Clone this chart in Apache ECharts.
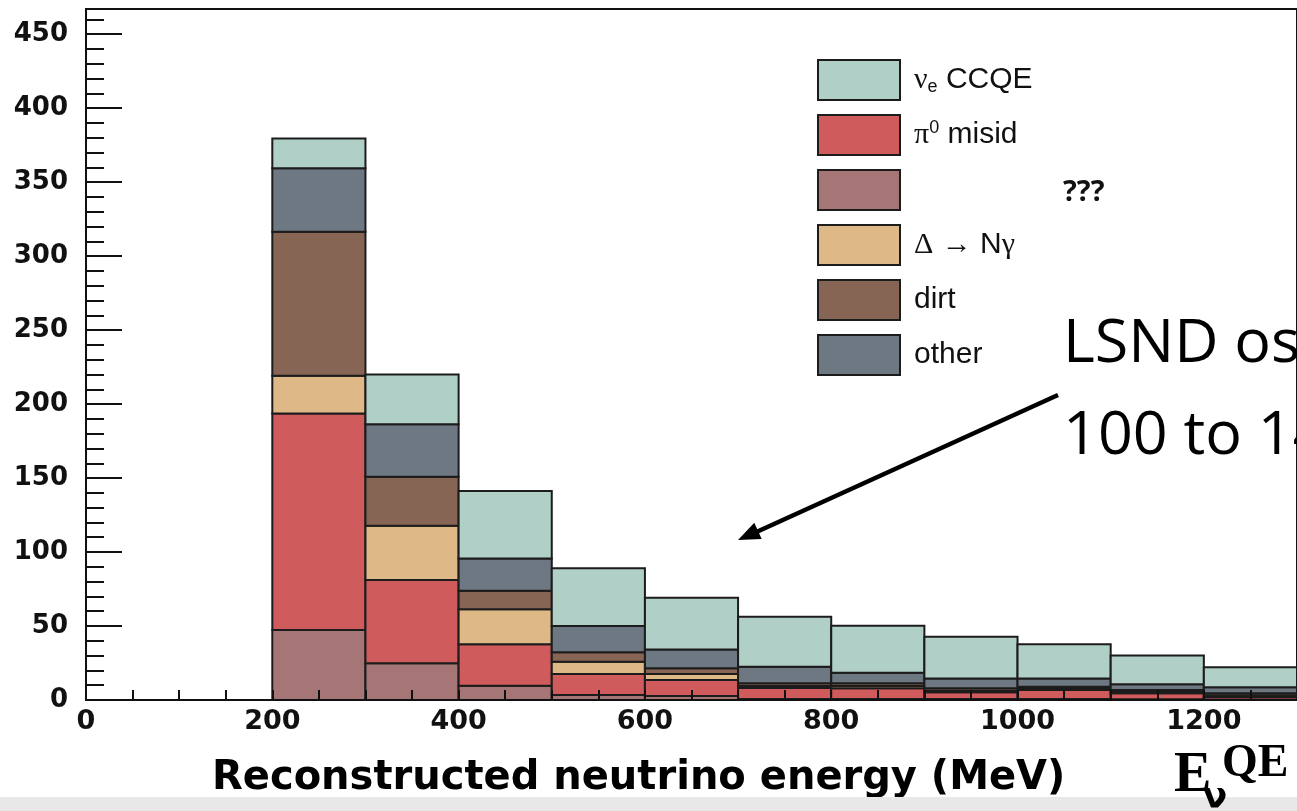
<!DOCTYPE html>
<html><head><meta charset="utf-8">
<script src="https://cdn.jsdelivr.net/npm/echarts@6/dist/echarts.min.js"></script>
<style>html,body{margin:0;padding:0;background:#fff;overflow:hidden}#c{width:1297px;height:811px}</style>
</head><body><div id="c"></div>
<script>
// ---- data (bin edges in MeV, events per bin for each stacked component) ----
const binEdges   = [200, 300, 400, 500, 600, 700, 800, 900, 1000, 1100, 1200, 1300];
const unknownVals = [47.3, 24.8, 9.7, 3.4, 2.7, 0.7, 0.7, 0.6, 0.6, 0.5, 0.4];
const pi0Vals     = [146.4, 56.3, 27.9, 14.2, 10.8, 7.4, 7.3, 4.6, 6.2, 4.0, 1.6];
const deltaVals   = [25.4, 36.7, 23.7, 8.3, 4.1, 1.4, 1.5, 1.1, 1.0, 1.0, 1.0];
const dirtVals    = [97.3, 33.1, 12.6, 6.3, 3.8, 1.8, 1.8, 1.6, 1.2, 1.3, 1.5];
const otherVals   = [42.9, 35.4, 21.8, 17.8, 12.8, 11.2, 7.1, 6.7, 5.6, 3.8, 4.1];
const ccqeVals    = [20.2, 33.7, 45.5, 39.0, 34.9, 33.8, 31.8, 28.2, 23.0, 19.4, 13.5];
const xTickLabels = [0, 200, 400, 600, 800, 1000, 1200];
const yTickLabels = [0, 50, 100, 150, 200, 250, 300, 350, 400, 450];
// stack order bottom -> top
const stackNames  = ['???', 'π0 misid', 'Δ → Nγ', 'dirt', 'other', 'νe CCQE'];
const stackVals   = [unknownVals, pi0Vals, deltaVals, dirtVals, otherVals, ccqeVals];
const legendOrder = ['νe CCQE', 'π0 misid', '???', 'Δ → Nγ', 'dirt', 'other'];

const colors = {
  '???': '#a67676', 'π0 misid': '#d05b5d', 'Δ → Nγ': '#deb887',
  'dirt': '#876555', 'other': '#6e7883', 'νe CCQE': '#b0cfc7'
};

const chart = echarts.init(document.getElementById('c'), null, {renderer: 'canvas'});

const cum = new Array(binEdges.length - 1).fill(0);
const series = stackNames.map((name, si) => {
  const data = stackVals[si].map((v, i) => {
    const item = [binEdges[i], binEdges[i + 1], cum[i], cum[i] + v];
    cum[i] += v;
    return item;
  });
  return {
    type: 'custom', name: name, z: 2 + si * 0.01,
    itemStyle: {color: colors[name], borderColor: '#1c1c1c', borderWidth: 2},
    encode: {x: [0, 1], y: [2, 3]},
    renderItem: function (params, api) {
      const a = api.coord([api.value(0), api.value(3)]);
      const b = api.coord([api.value(1), api.value(2)]);
      return {type: 'rect', shape: {x: a[0], y: a[1], width: b[0] - a[0], height: b[1] - a[1]},
              style: {fill: api.visual('color'), stroke: '#1c1c1c', lineWidth: 2}};
    },
    data: data
  };
});

const tickCol = '#111';
const option = {
  backgroundColor: '#fff',
  animation: false,
  grid: {left: 86, top: 9, width: 1217, height: 691, show: true, borderColor: tickCol, borderWidth: 2},
  legend: {
    orient: 'vertical', left: 812, top: 54, itemWidth: 82, itemHeight: 40, itemGap: 13,
    icon: 'rect', selectedMode: false,
    itemStyle: {borderColor: '#1c1c1c', borderWidth: 2},
    data: legendOrder,
    formatter: function (n) {
      if (n === 'νe CCQE') return '{g|ν}{sub|e}{t| CCQE}';
      if (n === 'π0 misid') return '{g|π}{sup|0}{t| misid}';
      if (n === '???') return '{q|???}';
      if (n === 'Δ → Nγ') return '{g|Δ}{t| }{g|→}{t| N}{g|γ}';
      return '{t|' + n + '}';
    },
    textStyle: {
      color: '#111', padding: [0, 0, 0, 9],
      rich: {
        t: {fontFamily: 'Liberation Sans', fontSize: 30, lineHeight: 32, color: '#111'},
        g: {fontFamily: 'Liberation Serif', fontSize: 30, lineHeight: 32, color: '#111'},
        sub: {fontFamily: 'Liberation Sans', fontSize: 18, lineHeight: 18, verticalAlign: 'bottom', color: '#111'},
        sup: {fontFamily: 'Liberation Sans', fontSize: 18, lineHeight: 18, verticalAlign: 'top', color: '#111'},
        q: {fontFamily: 'Open Sans', fontWeight: 'bold', fontSize: 29, lineHeight: 32, color: '#111', padding: [6, 0, 0, 149]}
      }
    }
  },
  xAxis: {
    type: 'value', min: 0, max: 1300, interval: 50, z: 5,
    axisLine: {show: true, onZero: false, lineStyle: {color: tickCol, width: 2}},
    axisTick: {show: true, inside: true, length: 10, lineStyle: {color: tickCol, width: 2}},
    splitLine: {show: false},
    axisLabel: {
      margin: 8, color: '#111', fontFamily: 'DejaVu Sans', fontWeight: 'bold', fontSize: 27,
      showMaxLabel: false,
      formatter: v => xTickLabels.indexOf(v) >= 0 ? String(v) : ''
    }
  },
  yAxis: [{
    type: 'value', min: 0, max: 467, interval: 50, position: 'left', z: 5,
    axisLine: {show: true, lineStyle: {color: tickCol, width: 2}},
    axisTick: {show: true, inside: true, length: 36, lineStyle: {color: tickCol, width: 2}},
    splitLine: {show: false},
    axisLabel: {
      margin: 18, color: '#111', fontFamily: 'DejaVu Sans', fontWeight: 'bold', fontSize: 26,
      showMaxLabel: false,
      formatter: v => yTickLabels.indexOf(v) >= 0 ? String(v) : ''
    }
  }, {
    type: 'value', min: 0, max: 467, interval: 10, position: 'left', offset: 0, z: 4,
    axisLine: {show: false},
    axisTick: {show: true, inside: true, length: 18, lineStyle: {color: tickCol, width: 2}},
    splitLine: {show: false},
    axisLabel: {show: false}
  }],
  graphic: [
    {type: 'text', z: 90, style: {text: 'Reconstructed neutrino energy (MeV)', x: 212, y: 779, verticalAlign: 'middle',
      font: 'bold 40px "DejaVu Sans"', fill: '#000'}},
    {type: 'text', z: 90, style: {text: 'LSND os', x: 1063, y: 345, verticalAlign: 'middle',
      font: '61px "Open Sans"', fill: '#000'}},
    {type: 'text', z: 90, style: {text: '100 to 14', x: 1063, y: 437, verticalAlign: 'middle',
      font: '61px "Open Sans"', fill: '#000'}},
    {type: 'line', z: 90, shape: {x1: 1058, y1: 395, x2: 752, y2: 534}, style: {stroke: '#000', lineWidth: 4.5}},
    {type: 'polygon', z: 90, shape: {points: [[738, 540], [761.7, 539.1], [754.3, 522.7]]}, style: {fill: '#000'}},
    {type: 'rect', z: 95, shape: {x: 0, y: 797, width: 1297, height: 14}, style: {fill: '#e8e8e8'}},
    {type: 'text', z: 100, style: {text: 'E', x: 1174, y: 777, verticalAlign: 'middle',
      font: 'bold 56px "Liberation Serif"', fill: '#000'}},
    {type: 'text', z: 100, style: {text: 'ν', x: 1215, y: 799, align: 'center', verticalAlign: 'middle',
      font: 'bold 36px "DejaVu Sans"', fill: '#000'}},
    {type: 'text', z: 100, style: {text: 'QE', x: 1222, y: 764, verticalAlign: 'middle',
      font: 'bold 46px "Liberation Serif"', fill: '#000'}}
  ],
  series: series
};
chart.setOption(option);
</script>
</body></html>
